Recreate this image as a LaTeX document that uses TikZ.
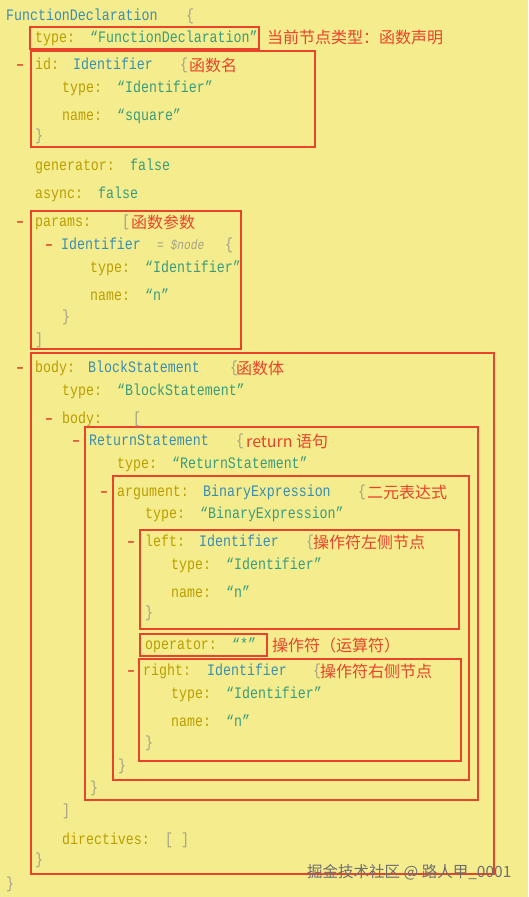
\documentclass[tikz,border=0pt]{standalone}
\usepackage{fontspec}
\newfontfamily\codefont[FakeStretch=0.83]{Liberation Mono}
\newfontfamily\cjkfont{Noto Sans CJK SC}
\definecolor{bgc}{HTML}{F5EC8E}
\definecolor{keyc}{HTML}{BA9E00}
\definecolor{strc}{HTML}{3A9C7C}
\definecolor{typec}{HTML}{3A8EAE}
\definecolor{brcc}{HTML}{A3A088}
\definecolor{redc}{HTML}{E8432B}
\definecolor{wmc}{HTML}{6E6E6E}
\newcommand\tk[5]{\node[#4] (#1) at (#2,#3) {#5};}
\begin{document}
\begin{tikzpicture}[x=1pt,y=-1pt,
  tok/.style={inner sep=0pt, anchor=base west, font=\codefont\fontsize{16}{19}\selectfont},
  key/.style={tok, text=keyc},
  str/.style={tok, text=strc},
  tname/.style={tok, text=typec},
  brc/.style={tok, text=brcc},
  meta/.style={tok, text=brcc, font=\codefont\itshape\fontsize{13.5}{16}\selectfont},
  dashm/.style={tok, text=redc, font=\codefont\bfseries\fontsize{16}{19}\selectfont},
  note/.style={inner sep=0pt, anchor=west, text=redc, font=\cjkfont\fontsize{16}{19}\selectfont},
  hl/.style={draw=redc, line width=1.3pt}]
\fill[bgc] (0,0) rectangle (528,897);
\useasboundingbox (0,0) rectangle (528,897);
% boxes
\draw[hl] (30,27) rectangle (259,49);
\draw[hl] (31,51) rectangle (315,147);
\draw[hl] (31,211) rectangle (241,349);
\draw[hl] (31,353) rectangle (494,874);
\draw[hl] (85,427) rectangle (478,800);
\draw[hl] (113,476) rectangle (469,780);
\draw[hl] (140,530) rectangle (459,629);
\draw[hl] (140,634) rectangle (267,656);
\draw[hl] (139,659) rectangle (461,761);
% line 1
\tk{fd}{6}{20}{tname}{FunctionDeclaration}
\tk{fdb}{186}{20}{brc}{\{}
% type
\tk{t1k}{35}{42}{key}{type:}
\tk{t1v}{90}{42}{str}{“FunctionDeclaration”}
\node[note] (n1) at (267,37) {当前节点类型：函数声明};
% id
\tk{d1}{16}{69.5}{dashm}{–}
\tk{idk}{35}{69.5}{key}{id:}
\tk{idv}{73}{69.5}{tname}{Identifier}
\tk{idb}{180}{69.5}{brc}{\{}
\node[note] (n2) at (189,65) {函数名};
\tk{t2k}{62}{92.5}{key}{type:}
\tk{t2v}{117}{92.5}{str}{“Identifier”}
\tk{nm2k}{62}{120.5}{key}{name:}
\tk{nm2v}{117}{120.5}{str}{“square”}
\tk{idc}{35}{140.5}{brc}{\}}
% generator / async
\tk{genk}{35}{170.5}{key}{generator:}
\tk{genv}{130}{170.5}{str}{false}
\tk{asyk}{35}{198.5}{key}{async:}
\tk{asyv}{98}{198.5}{str}{false}
% params
\tk{d2}{16}{226.5}{dashm}{–}
\tk{pk}{35}{226.5}{key}{params:}
\tk{pb}{122}{226.5}{brc}{[}
\node[note] (n3) at (131,222) {函数参数};
\tk{d3}{45}{249.5}{dashm}{–}
\tk{pidv}{61}{249.5}{tname}{Identifier}
\tk{pmeta}{157}{249.5}{meta}{= \$node}
\tk{pidb}{225}{249.5}{brc}{\{}
\tk{t3k}{90}{272.5}{key}{type:}
\tk{t3v}{145}{272.5}{str}{“Identifier”}
\tk{nm3k}{90}{300.5}{key}{name:}
\tk{nm3v}{145}{300.5}{str}{“n”}
\tk{pidc}{62}{321.5}{brc}{\}}
\tk{pc}{35}{344.5}{brc}{]}
% body
\tk{d4}{16}{372.5}{dashm}{–}
\tk{bk}{35}{372.5}{key}{body:}
\tk{bv}{88}{372.5}{tname}{BlockStatement}
\tk{bb}{230}{372.5}{brc}{\{}
\node[note] (n4) at (236,368) {函数体};
\tk{t4k}{62}{395.5}{key}{type:}
\tk{t4v}{117}{395.5}{str}{“BlockStatement”}
\tk{d5}{45}{423.5}{dashm}{–}
\tk{b2k}{62}{423.5}{key}{body:}
\tk{b2b}{133}{423.5}{brc}{[}
% return
\tk{d6}{72}{445.5}{dashm}{–}
\tk{rv}{89}{445.5}{tname}{ReturnStatement}
\tk{rb}{236}{445.5}{brc}{\{}
\node[note] (n5) at (246,441) {return 语句};
\tk{t5k}{117}{468.5}{key}{type:}
\tk{t5v}{172}{468.5}{str}{“ReturnStatement”}
% argument
\tk{d7}{100}{496.5}{dashm}{–}
\tk{ak}{117}{496.5}{key}{argument:}
\tk{av}{203}{496.5}{tname}{BinaryExpression}
\tk{ab}{358}{496.5}{brc}{\{}
\node[note] (n6) at (367,492) {二元表达式};
\tk{t6k}{145}{518.5}{key}{type:}
\tk{t6v}{200}{518.5}{str}{“BinaryExpression”}
% left
\tk{d8}{127}{546.5}{dashm}{–}
\tk{lk}{145}{546.5}{key}{left:}
\tk{lv}{199}{546.5}{tname}{Identifier}
\tk{lb}{306}{546.5}{brc}{\{}
\node[note] (n7) at (313,542) {操作符左侧节点};
\tk{t7k}{171}{569.5}{key}{type:}
\tk{t7v}{226}{569.5}{str}{“Identifier”}
\tk{nm7k}{171}{597.5}{key}{name:}
\tk{nm7v}{226}{597.5}{str}{“n”}
\tk{lc}{145}{617.5}{brc}{\}}
% operator
\tk{ok}{145}{649}{key}{operator:}
\tk{ov}{232}{649}{str}{“*”}
\node[note] (n8) at (272,645) {操作符（运算符）};
% right
\tk{d9}{127}{675.5}{dashm}{–}
\tk{rk}{143}{675.5}{key}{right:}
\tk{rgv}{207}{675.5}{tname}{Identifier}
\tk{rgb}{313}{675.5}{brc}{\{}
\node[note] (n9) at (320,671) {操作符右侧节点};
\tk{t8k}{171}{698.5}{key}{type:}
\tk{t8v}{226}{698.5}{str}{“Identifier”}
\tk{nm8k}{171}{726.5}{key}{name:}
\tk{nm8v}{226}{726.5}{str}{“n”}
\tk{rgc}{145}{747.5}{brc}{\}}
% closings
\tk{ac}{118}{770.5}{brc}{\}}
\tk{rc}{90}{792.5}{brc}{\}}
\tk{b2c}{62}{815.5}{brc}{]}
\tk{dirk}{62}{844.5}{key}{directives:}
\tk{dirv}{165}{844.5}{brc}{[ ]}
\tk{bc}{35}{864.5}{brc}{\}}
\tk{fdc}{6}{888.5}{brc}{\}}
% watermark
\node[inner sep=0pt, anchor=west, text=wmc, font=\cjkfont\fontsize{15.5}{18}\selectfont] (wm) at (307,872) {掘金技术社区 @ 路人甲\_0001};
\end{tikzpicture}
\end{document}
